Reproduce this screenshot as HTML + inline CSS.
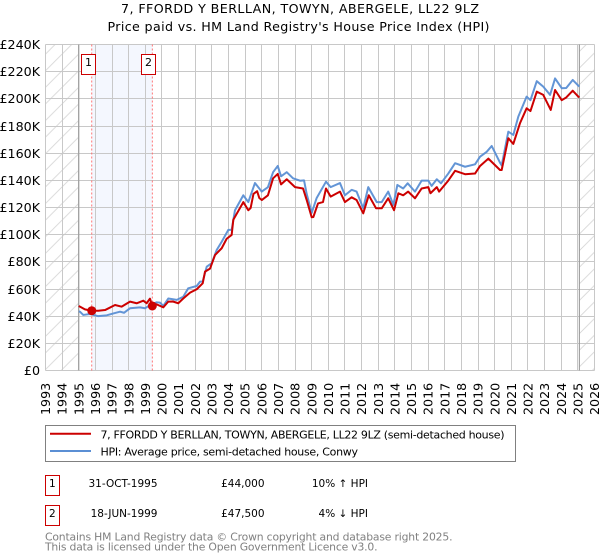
<!DOCTYPE html>
<html lang="en">
<head>
<meta charset="utf-8">
<title>7, FFORDD Y BERLLAN, TOWYN, ABERGELE, LL22 9LZ</title>
<style>
html,body{margin:0;padding:0;background:#fff;width:600px;height:560px;overflow:hidden}
svg{display:block;font-family:"DejaVu Sans","Liberation Sans",sans-serif}
text{fill:#000}
</style>
</head>
<body>
<svg id="chart" xmlns="http://www.w3.org/2000/svg" width="600" height="560" viewBox="0 0 600 560">
  <defs>
    <pattern id="hatch" patternUnits="userSpaceOnUse" width="16.6" height="16.6">
      <path d="M-1 17.6 L17.6 -1 M-1 1 L1 -1 M15.6 17.6 L17.6 15.6" stroke="#d4d4d4" stroke-width="0.8" fill="none"/>
    </pattern>
    <clipPath id="plot-clip"><rect x="45.5" y="44.5" width="549" height="326"/></clipPath>
  </defs>
  <rect x="0" y="0" width="600" height="560" fill="#ffffff"/>
  <text x="300" y="13" text-anchor="middle" font-size="12.67" textLength="358">7, FFORDD Y BERLLAN, TOWYN, ABERGELE, LL22 9LZ</text>
  <text x="298.5" y="31" text-anchor="middle" font-size="12.67" textLength="382">Price paid vs. HM Land Registry's House Price Index (HPI)</text>
  <g id="underlay"></g>
  <g id="grid"></g>
  <g id="sale-lines"></g>
  <g id="series" clip-path="url(#plot-clip)"></g>
  <g id="markers"></g>
  <g id="y-axis"></g>
  <g id="x-axis"></g>

  <g>
    <rect x="45.5" y="425.5" width="470" height="36" fill="#fff" stroke="#808080" stroke-width="1"/>
    <line x1="50" x2="91" y1="433.8" y2="433.8" stroke="#cc0000" stroke-width="2"/>
    <text x="100.5" y="438.5" font-size="11" textLength="404">7, FFORDD Y BERLLAN, TOWYN, ABERGELE, LL22 9LZ (semi-detached house)</text>
    <line x1="50" x2="91" y1="451" y2="451" stroke="#5b8fd4" stroke-width="2"/>
    <text x="100.5" y="455.5" font-size="11" textLength="257.5">HPI: Average price, semi-detached house, Conwy</text>
  </g>

  <g font-size="10.5">
    <rect x="45.5" y="475.5" width="14" height="20" fill="#fff" stroke="#cc0000" stroke-width="1"/>
    <text x="52.3" y="487" text-anchor="middle">1</text>
    <text x="157.5" y="487" text-anchor="end">31-OCT-1995</text>
    <text x="264.5" y="487" text-anchor="end">£44,000</text>
    <text x="368" y="487" text-anchor="end">10% ↑ HPI</text>
    <rect x="45.5" y="505.5" width="14" height="20" fill="#fff" stroke="#cc0000" stroke-width="1"/>
    <text x="52.3" y="517" text-anchor="middle">2</text>
    <text x="157.5" y="517" text-anchor="end">18-JUN-1999</text>
    <text x="264.5" y="517" text-anchor="end">£47,500</text>
    <text x="368" y="517" text-anchor="end">4% ↓ HPI</text>
  </g>

  <text x="45" y="540.5" font-size="10.8" style="fill:#808080" textLength="407.5">Contains HM Land Registry data © Crown copyright and database right 2025.</text>
  <text x="45" y="550.5" font-size="10.8" style="fill:#808080" textLength="332.5">This data is licensed under the Open Government Licence v3.0.</text>
</svg>
<script>
const yearTicks = [1993,1994,1995,1996,1997,1998,1999,2000,2001,2002,2003,2004,2005,2006,2007,2008,2009,2010,2011,2012,2013,2014,2015,2016,2017,2018,2019,2020,2021,2022,2023,2024,2025,2026];
const valueTicks = [0,20,40,60,80,100,120,140,160,180,200,220,240];
const dataStart = 1995.0;
const dataEnd = 2025.09;
const saleYears = [1995.78,1999.42];
const saleValues = [44,47.5];
const saleLabels = ['1','2'];

const hpiYears = [1995.0,1995.07,1995.27,1995.67,1996.17,1996.68,1997.08,1997.48,1997.72,1998.08,1998.68,1998.98,1999.28,1999.68,1999.88,2000.08,2000.38,2000.89,2001.28,2001.58,2002.09,2002.29,2002.45,2002.69,2002.99,2003.29,2003.6,2003.99,2004.19,2004.39,2004.89,2005.19,2005.59,2006.0,2006.37,2006.68,2006.96,2007.16,2007.5,2007.88,2008.3,2008.54,2008.7,2009.0,2009.3,2009.86,2010.14,2010.7,2011.0,2011.4,2011.7,2012.1,2012.4,2012.91,2013.21,2013.6,2013.91,2014.15,2014.5,2014.77,2015.21,2015.61,2016.01,2016.21,2016.52,2016.77,2017.21,2017.62,2018.22,2018.82,2019.12,2019.52,2019.82,2020.32,2020.42,2020.82,2021.12,2021.42,2021.92,2022.15,2022.53,2022.92,2023.33,2023.63,2024.03,2024.3,2024.69,2025.03,2025.09];
const hpiValues = [43.5,43.3,40.9,41.6,40,40.6,42,43.3,42.5,45.8,46.5,45.8,48.2,50.2,50,47.5,53,52,54.3,60.5,62.2,65.4,65.5,76.4,79,88.7,95,103.5,103.5,118,129,124,138,131.7,135,146,150.6,143,146,141.5,139.7,140,130,116,127,139,135,138,129,133,131.7,119.4,135,124,124,131.7,121.9,136.6,134,137.8,131.7,139.8,139.8,135.9,140.8,137.8,145,152.6,150,151.8,157.4,161,165.3,153,151,175.8,173.4,186.9,201.6,199,213,209,202.9,215,207.8,208,213.9,209.7,209];

const priceYears = [1995.0,1995.07,1995.37,1995.78,1996.17,1996.58,1997.18,1997.58,1998.08,1998.48,1998.88,1999.08,1999.28,1999.42,1999.68,2000.08,2000.38,2000.66,2000.98,2001.28,2001.69,2002.09,2002.45,2002.59,2002.89,2003.19,2003.59,2003.89,2004.19,2004.29,2004.89,2005.19,2005.33,2005.5,2005.72,2005.85,2006.0,2006.37,2006.68,2006.96,2007.16,2007.5,2008.0,2008.48,2008.7,2009.0,2009.1,2009.38,2009.68,2009.86,2010.14,2010.7,2011.0,2011.4,2011.7,2012.1,2012.43,2012.87,2013.21,2013.6,2013.95,2014.21,2014.5,2014.8,2015.21,2015.61,2016.01,2016.14,2016.52,2016.66,2017.21,2017.62,2018.22,2018.82,2019.12,2019.62,2020.32,2020.42,2020.82,2021.12,2021.52,2021.92,2022.15,2022.53,2022.92,2023.37,2023.63,2024.03,2024.3,2024.69,2025.03,2025.09];
const priceValues = [47.5,47,45,44,44,44.5,48.2,47,50.7,49.5,51.4,49.5,52.9,47.5,48.7,46.5,50.7,50.8,49.5,53,57.3,59.8,64.2,72.8,75,85,90,97,99.8,111,124,118,119.6,130,132,127,125.5,129,141.5,144.7,137,140.8,135,134,125.5,112.8,113,123,124,134,128,131.7,124,127.5,125.5,115.7,129,119.4,119.4,126.8,118,130.5,129,131.7,126.8,134,135,130.5,135,131.7,139.8,147,144.5,145,150.6,156,147.6,147.6,171,166.8,182,193,191,205.3,202.9,191.8,206.5,199,201,206,201.6,201];

const plotLeft = 45.5, plotRight = 594.5, plotTop = 44.5, plotBottom = 370.5;
const svgNS = 'http://www.w3.org/2000/svg';
function xScale(year){ return plotLeft + (year - yearTicks[0]) / (yearTicks[yearTicks.length-1] - yearTicks[0]) * (plotRight - plotLeft); }
function yScale(value){ return plotBottom - value / valueTicks[valueTicks.length-1] * (plotBottom - plotTop); }
function make(tag, props, parent){
  const el = document.createElementNS(svgNS, tag);
  for (const k in props) el.setAttribute(k, props[k]);
  parent.appendChild(el);
  return el;
}
const underlay = document.getElementById('underlay');
const grid = document.getElementById('grid');
const saleLinesG = document.getElementById('sale-lines');
const seriesG = document.getElementById('series');
const markersG = document.getElementById('markers');
const yAxisG = document.getElementById('y-axis');
const xAxisG = document.getElementById('x-axis');

const hatchL = make('rect', {x:plotLeft, y:plotTop, width:xScale(dataStart)-plotLeft, height:plotBottom-plotTop, fill:'url(#hatch)'}, underlay);


const hatchR = make('rect', {x:xScale(dataEnd), y:plotTop, width:plotRight-xScale(dataEnd), height:plotBottom-plotTop, fill:'url(#hatch)'}, underlay);


const band = make('rect', {x:xScale(saleYears[0]), y:plotTop, width:xScale(saleYears[1])-xScale(saleYears[0]), height:plotBottom-plotTop, fill:'#f4f7fe'}, underlay);



yearTicks.forEach(function(y){
  const px = Math.round(xScale(y) - 0.5) + 0.5;
  const l = make('line', {x1:px, x2:px, y1:plotTop, y2:plotBottom, stroke:'#c8c8c8', 'stroke-width':1}, grid);
  
  
  const t = make('text', {x:0, y:0, 'font-size':12.67, transform:'translate('+(xScale(y)+4.6)+',415) rotate(-90)'}, xAxisG);
  t.textContent = String(y);
  
  
});
valueTicks.forEach(function(v){
  const py = Math.round(yScale(v) - 0.5) + 0.5;
  const l = make('line', {x1:plotLeft, x2:plotRight, y1:py, y2:py, stroke:'#c8c8c8', 'stroke-width':1}, grid);
  
  
  const t = make('text', {x:40, y:py+4.5, 'text-anchor':'end', 'font-size':12.67}, yAxisG);
  t.textContent = v === 0 ? '£0' : '£' + v + 'K';
  
  
});
[dataStart, dataEnd].forEach(function(y){
  const l = make('line', {x1:xScale(y), x2:xScale(y), y1:plotTop, y2:plotBottom, stroke:'#999999', 'stroke-width':1.1}, grid);
  
  
});

saleYears.forEach(function(y){
  const l = make('line', {x1:xScale(y), x2:xScale(y), y1:plotTop, y2:plotBottom, stroke:'#ff6666', 'stroke-width':0.9, 'stroke-dasharray':'2 2'}, saleLinesG);
  
  
});

function pathFrom(xs, vs){
  return xs.map(function(x,i){ return (i ? 'L' : 'M') + xScale(x).toFixed(2) + ' ' + yScale(vs[i]).toFixed(2); }).join(' ');
}
const hpiLine = make('path', {d:pathFrom(hpiYears, hpiValues), fill:'none', stroke:'#5b8fd4', 'stroke-width':2, 'stroke-linejoin':'round', opacity:0.95}, seriesG);


const priceLine = make('path', {d:pathFrom(priceYears, priceValues), fill:'none', stroke:'#cc0000', 'stroke-width':2, 'stroke-linejoin':'round'}, seriesG);



saleYears.forEach(function(y,i){
  const c = make('circle', {cx:xScale(y), cy:yScale(saleValues[i]), r:4.5, fill:'#cc0000'}, markersG);
  
  
  const bx = Math.round(xScale(y)) - 10.5;
  const b = make('rect', {x:bx, y:54.5, width:14, height:20, fill:'#fff', stroke:'#cc0000', 'stroke-width':1}, markersG);
  
  
  const t = make('text', {x:bx+7, y:66, 'text-anchor':'middle', 'font-size':11}, markersG);
  t.textContent = saleLabels[i];
  
  
});
</script>
</body>
</html>
